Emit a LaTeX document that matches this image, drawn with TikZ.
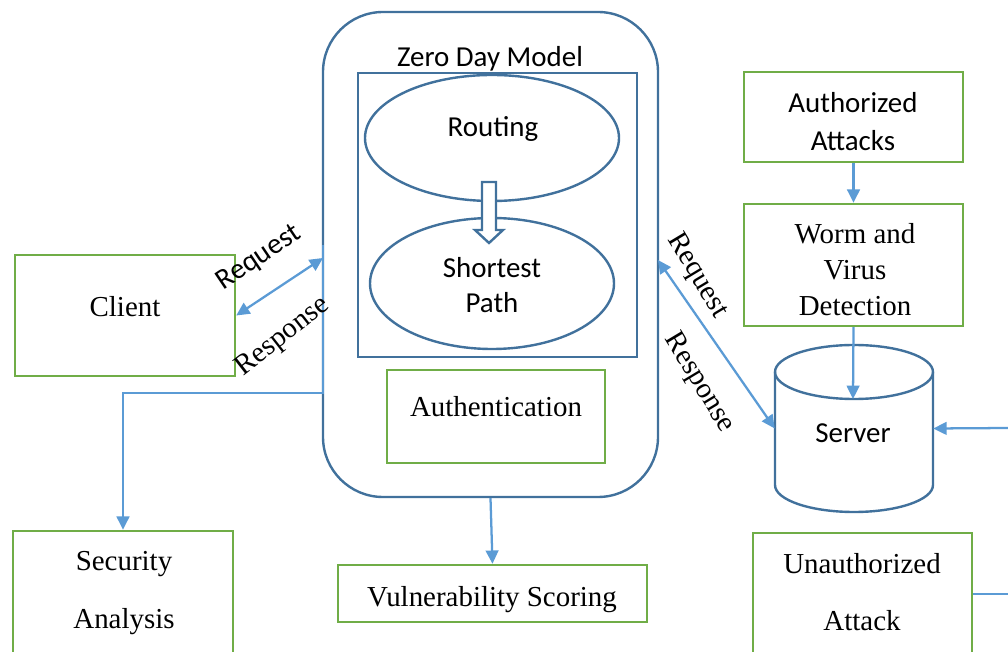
\documentclass[tikz,border=0pt]{standalone}
\usepackage{fontspec}
\setmainfont{Liberation Serif}
\newfontfamily\calfont{Carlito}
\usetikzlibrary{arrows.meta,shapes.geometric,calc}
\definecolor{gbd}{RGB}{112,173,71}
\definecolor{abl}{RGB}{91,155,213}
\definecolor{dbl}{RGB}{65,113,156}
\begin{document}
\begin{tikzpicture}[x=0.75pt,y=-0.75pt,
  gbox/.style={draw=gbd,line width=1.8pt,inner sep=0pt},
  txt/.style={font=\fontsize{21.7}{27}\selectfont,align=center,inner sep=0pt},
  stxt/.style={font=\calfont\fontsize{21.7}{27}\selectfont,align=center,inner sep=0pt},
  arr/.style={draw=abl,line width=1.7pt,-{Triangle[length=10pt,width=9.5pt]}},
  darr/.style={draw=abl,line width=1.7pt,{Triangle[length=10pt,width=9.5pt]}-{Triangle[length=10pt,width=9.5pt]}},
  dshape/.style={draw=dbl,line width=1.8pt,inner sep=0pt}]
\useasboundingbox (0,0) rectangle (1008,652);
% Zero day model container
\node[dshape,rounded corners=45pt,minimum width=335*0.75pt,minimum height=485*0.75pt] (zdm) at (490.5,254.5) {};
\node[stxt] (zdmT) at (490,59) {Zero Day Model};
\node[dshape,minimum width=279*0.75pt,minimum height=284*0.75pt] (inner) at (497.5,215) {};
\node[dshape,ellipse,minimum width=254*0.75pt,minimum height=126*0.75pt] (routing) at (492,138) {};
\node[stxt] (routingT) at (493,129) {Routing};
\node[dshape,ellipse,minimum width=244*0.75pt,minimum height=131*0.75pt] (sp) at (492,283.5) {};
\node[stxt] (spT) at (492,285) {Shortest\\[-1pt]Path};
% hollow arrow
\draw[dbl,line width=1.8pt,fill=white] (482,182) -- (496,182) -- (496,230) -- (503,230) -- (489,243) -- (475,230) -- (482,230) -- cycle;
% Authentication
\node[gbox,minimum width=218*0.75pt,minimum height=93*0.75pt] (auth) at (496,416.5) {};
\node[txt] (authT) at (496,407) {Authentication};
% Client
\node[gbox,minimum width=220*0.75pt,minimum height=121*0.75pt] (client) at (125,315.5) {};
\node[txt] (clientT) at (125,307) {Client};
% Security Analysis
\node[gbox,minimum width=220*0.75pt,minimum height=140*0.75pt] (sec) at (123,601) {};
\node[txt,font=\fontsize{21.7}{43}\selectfont] (secT) at (124,593) {Security\\Analysis};
% Vulnerability Scoring
\node[gbox,minimum width=309*0.75pt,minimum height=57*0.75pt] (vul) at (492.5,593.5) {};
\node[txt] (vulT) at (492,600) {Vulnerability Scoring};
% Authorized Attacks
\node[gbox,minimum width=219*0.75pt,minimum height=90*0.75pt] (aa) at (853.5,117) {};
\node[stxt,font=\calfont\fontsize{21.7}{28.5}\selectfont] (aaT) at (853,122) {Authorized\\Attacks};
% Worm and virus detection
\node[gbox,minimum width=219*0.75pt,minimum height=122*0.75pt] (worm) at (853.5,265) {};
\node[txt] (wormT) at (855,270) {Worm and\\Virus\\Detection};
% Unauthorized attack
\node[gbox,minimum width=219*0.75pt,minimum height=140*0.75pt] (ua) at (862.5,603) {};
\node[txt,font=\fontsize{21.7}{43}\selectfont] (uaT) at (862,592) {Unauthorized\\Attack};
% Server cylinder
\draw[dbl,line width=1.8pt,fill=white] (775,372) -- (775,485) arc[start angle=180,end angle=360,x radius=79,y radius=-27] -- (933,372);
\draw[dbl,line width=1.8pt] (854,372) ellipse[x radius=79,y radius=27];
\node[minimum width=158*0.75pt,minimum height=167*0.75pt,inner sep=0pt] (server) at (854,428.5) {};
\node[stxt] (serverT) at (853,433) {Server};
% coordinates
\coordinate (zl) at (323,258);
\coordinate (sa0) at (323,245);
\coordinate (bend) at (323,393);
\coordinate (zr) at (658,260);
\coordinate (stop) at (853,399);
\coordinate (rin) at (1008,428);
\coordinate (rout) at (1008,594);
% connectors
\draw[darr] (client.east) -- (zl);
\draw[arr] (sa0) -- (bend) -| (sec.north);
\draw[arr] (zdm.south) -- (vul.north);
\draw[darr] (zr) -- (server.west);
\draw[arr] (aa.south) -- (worm.north);
\draw[arr] (worm.south) -- (stop);
\draw[arr] (rin) -- (server.east);
\draw[draw=abl,line width=1.7pt] (ua.east |- rout) -- (rout);
% rotated labels
\node[stxt,rotate=34] (lreq) at (259,258) {Request};
\node[txt,rotate=38] (lres) at (283,337) {Response};
\node[txt,rotate=-59] (rreq) at (697,276) {Request};
\node[txt,rotate=-59] (rres) at (699,383) {Response};
\end{tikzpicture}
\end{document}
